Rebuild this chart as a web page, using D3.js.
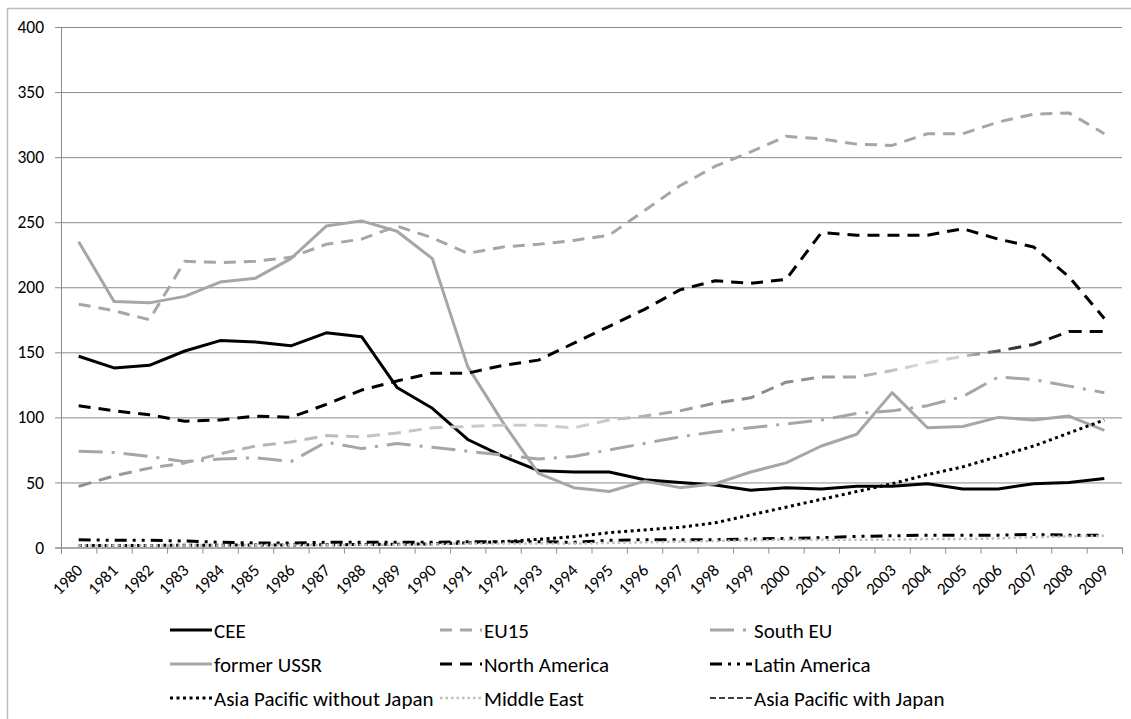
<!DOCTYPE html>
<html>
<head>
<meta charset="utf-8">
<script src="https://cdn.jsdelivr.net/npm/d3@7"></script>
<style>
  body { margin: 0; background: #fff; }
  text { font-family: Carlito, Lato, "Open Sans", sans-serif; fill: #000; }
</style>
</head>
<body>
<script>
// DATA
const years = d3.range(1980, 2010);
const yTicks = [0, 50, 100, 150, 200, 250, 300, 350, 400];

const cee        = [147,138,140,151,159,158,155,165,162,123,107,83,70,59,58,58,52,50,48,44,46,45,47,47,49,45,45,49,50,53];
const eu15       = [187,182,175,220,219,220,223,233,237,247,238,226,231,233,236,240,259,278,293,304,316,314,310,309,318,318,327,333,334,318];
const southEU    = [74,73,70,66,68,69,66,81,76,80,77,74,71,68,70,75,80,85,89,92,95,98,103,105,109,116,131,129,124,119];
const formerUSSR = [235,189,188,193,204,207,222,247,251,243,222,139,96,57,46,43,51,46,49,58,65,78,87,119,92,93,100,98,101,90];
const northAm    = [109,105,102,97,98,101,100,110,121,128,134,134,140,144,157,170,183,198,205,203,206,242,240,240,240,245,237,231,208,176];
const latinAm    = [6,5.5,5.5,5,4,3.5,3.5,4,4,4,4,4.5,4.5,4.5,4,5.5,6,6,6,6.5,7,7.5,8.5,9,9.5,9.5,9.5,10,9.5,9.5];
const apNoJapan  = [1.5,1.5,1.6,1.7,1.8,1.9,2,2.1,2.3,2.5,2.8,3.5,4.5,6.3,8.3,11.4,13.5,15.5,19,25,31,37,43,49,56,62,70,78,88,98];
const middleEast = [1.5,1.5,1.5,1.5,1.5,1.8,2,2,2,2.2,2.5,3,3,3,3,3.5,4,4.5,5,5.5,6,6,6,6,6.5,6.5,7,8,8.5,9];
const apJapan    = [47,55,61,65,72,78,81,86,85,88,92,93,94,94,92,98,101,105,111,115,127,131,131,136,142,147,151,156,166,166];

// SERIES STYLES
const series = [
  {name: "CEE", values: cee, color: "#000", width: 3, dash: null},
  {name: "EU15", values: eu15, color: "#a6a6a6", width: 3, dash: "12,8"},
  {name: "South EU", values: southEU, color: "#a6a6a6", width: 3, dash: "24,9,3,9"},
  {name: "former USSR", values: formerUSSR, color: "#a6a6a6", width: 3, dash: null},
  {name: "North America", values: northAm, color: "#000", width: 3, dash: "12,8"},
  {name: "Latin America", values: latinAm, color: "#000", width: 3, dash: "12,6,3,6,3,6"},
  {name: "Asia Pacific without Japan", values: apNoJapan, color: "#000", width: 3, dash: "3,3.5"},
  {name: "Middle East", values: middleEast, color: "#bfbfbf", width: 2.5, dash: "2.5,3"},
  {name: "Asia Pacific with Japan", values: apJapan, color: "url(#apGrad)", width: 3, dash: "13,8", legendColor: "#404040", legendDash: "6,3", legendWidth: 2}
];

// SIZES
const W = 1131, H = 719;
const plot = {left: 61, right: 1122, top: 27, bottom: 547.5};

const svg = d3.select("body").append("svg")
  .attr("width", W)
  .attr("height", H);

// OUTER BORDER
svg.append("rect")
  .attr("x", 7.5).attr("y", 8.5)
  .attr("width", 1300).attr("height", 900)
  .attr("fill", "none")
  .attr("stroke", "#bdbdbd")
  .attr("stroke-width", 1.5);

// SCALES
const x = d3.scaleBand().domain(years).range([plot.left, plot.right]).paddingInner(0).paddingOuter(0);
const cx = d => x(d) + x.bandwidth() / 2;
const y = d3.scaleLinear().domain([0, 400]).range([plot.bottom, plot.top]);
const xEdges = d3.scaleLinear().domain([0, years.length]).range([plot.left, plot.right]);

// GRADIENT FOR ASIA PACIFIC WITH JAPAN
const grad = svg.append("defs").append("linearGradient")
  .attr("id", "apGrad")
  .attr("gradientUnits", "userSpaceOnUse")
  .attr("x1", cx(1980)).attr("x2", cx(2009))
  .attr("y1", 0).attr("y2", 0);
[[0, "#8c8c8c"], [0.1, "#aaaaaa"], [0.3, "#c4c4c4"], [0.5, "#cfcfcf"], [0.62, "#8e8e8e"],
 [0.7, "#8c8c8c"], [0.76, "#a8a8a8"], [0.82, "#d9d9d9"], [0.86, "#cfcfcf"], [0.9, "#444"], [0.95, "#111"], [1, "#000"]]
  .forEach(s => grad.append("stop").attr("offset", s[0]).attr("stop-color", s[1]));

// GRIDLINES
svg.append("g")
  .attr("transform", `translate(${plot.left},0)`)
  .call(d3.axisLeft(y).tickValues(yTicks).tickSize(-(plot.right - plot.left)).tickFormat(""))
  .call(g => g.select(".domain").remove())
  .selectAll("line").attr("stroke", "#8c8c8c");

// Y AXIS
svg.append("g")
  .attr("transform", `translate(${plot.left},0)`)
  .call(d3.axisLeft(y).tickValues(yTicks).tickSize(6).tickPadding(11))
  .call(g => g.select(".domain").attr("stroke", "#8c8c8c"))
  .call(g => g.selectAll("line").attr("stroke", "#8c8c8c"))
  .call(g => g.selectAll("text").style("font-size", "17.5px"));

// X AXIS TICKS (between categories)
svg.append("g")
  .attr("transform", `translate(0,${plot.bottom})`)
  .call(d3.axisBottom(xEdges).ticks(years.length).tickSize(6).tickFormat(""))
  .call(g => g.select(".domain").attr("stroke", "#8c8c8c"))
  .call(g => g.selectAll("line").attr("stroke", "#8c8c8c"));

// X LABELS
svg.append("g").selectAll("text")
  .data(years)
  .join("text")
  .attr("transform", d => `translate(${cx(d) + 5},${plot.bottom + 24}) rotate(-45)`)
  .attr("text-anchor", "end")
  .style("font-size", "17px")
  .text(d => d);

// LINES
const line = d3.line()
  .x((d, i) => cx(years[i]))
  .y(d => y(d));

svg.append("g").selectAll("path")
  .data(series)
  .join("path")
  .attr("fill", "none")
  .attr("stroke", d => d.color)
  .attr("stroke-width", d => d.width)
  .attr("stroke-dasharray", d => d.dash)
  .attr("stroke-linejoin", "round")
  .attr("d", d => line(d.values));

// LEGEND
const legend = svg.append("g");
const legItem = legend.selectAll("g")
  .data(series)
  .join("g")
  .attr("transform", (d, i) => `translate(${170 + (i % 3) * 270},${630 + Math.floor(i / 3) * 34})`);

legItem.append("line")
  .attr("x1", 0).attr("x2", 42)
  .attr("stroke", d => d.legendColor || d.color)
  .attr("stroke-width", d => d.legendWidth || d.width)
  .attr("stroke-dasharray", d => d.legendDash || d.dash);

legItem.append("text")
  .attr("x", 44)
  .attr("dy", "0.36em")
  .style("font-size", "21px")
  .text(d => d.name);
</script>
</body>
</html>
